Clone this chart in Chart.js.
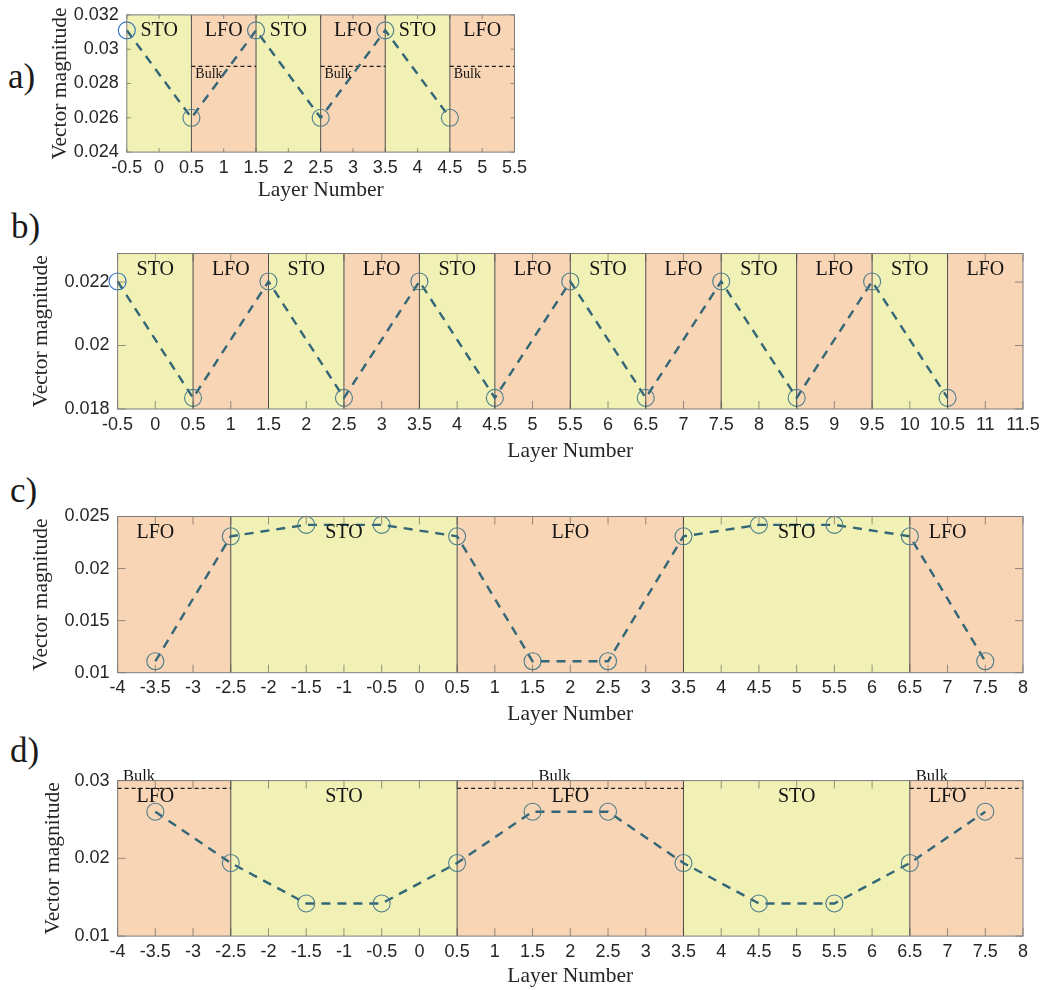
<!DOCTYPE html>
<html>
<head>
<meta charset="utf-8">
<script src="https://cdn.jsdelivr.net/npm/chart.js@4.4.1/dist/chart.umd.min.js"></script>
<style>
  html, body { margin: 0; padding: 0; background: #ffffff; }
  #page { position: relative; width: 1045px; height: 990px; overflow: hidden; background: #ffffff; }
  #page canvas { position: absolute; left: 0; }
  .tag { position: absolute; font-family: "Liberation Serif", "Times New Roman", serif; font-size: 35px; line-height: 1; color: #1a1a1a; }
</style>
</head>
<body>
<div id="page">
  <div class="tag" style="left:8px; top:59px;">a)</div>
  <div class="tag" style="left:11px; top:209px;">b)</div>
  <div class="tag" style="left:10px; top:473px;">c)</div>
  <div class="tag" style="left:10px; top:733px;">d)</div>
  <canvas id="chartA"></canvas>
  <canvas id="chartB"></canvas>
  <canvas id="chartC"></canvas>
  <canvas id="chartD"></canvas>
</div>
<script>
// ---- Panel a: 1+1 superlattice ----
const aLayers = [-0.5, 0.5, 1.5, 2.5, 3.5, 4.5];
const aMagnitude = [0.0311, 0.026, 0.0311, 0.026, 0.0311, 0.026];
const aRegionEdges = [-0.5, 0.5, 1.5, 2.5, 3.5, 4.5, 5.5];
const aRegionNames = ['STO', 'LFO', 'STO', 'LFO', 'STO', 'LFO'];
const aRegionLabelX = [0, 1, 2, 3, 4, 5];
const aBulk = 0.029;
const aBulkLabelX = [0.56, 2.56, 4.56];
const aXTickLabels = ['-0.5', '0', '0.5', '1', '1.5', '2', '2.5', '3', '3.5', '4', '4.5', '5', '5.5'];
const aYTickLabels = ['0.024', '0.026', '0.028', '0.03', '0.032'];
const aYRange = [0.024, 0.032];

// ---- Panel b: longer 1+1 stack ----
const bLayers = [-0.5, 0.5, 1.5, 2.5, 3.5, 4.5, 5.5, 6.5, 7.5, 8.5, 9.5, 10.5];
const bMagnitude = [0.02202, 0.01835, 0.02202, 0.01835, 0.02202, 0.01835, 0.02202, 0.01835, 0.02202, 0.01835, 0.02202, 0.01835];
const bRegionEdges = [-0.5, 0.5, 1.5, 2.5, 3.5, 4.5, 5.5, 6.5, 7.5, 8.5, 9.5, 10.5, 11.5];
const bRegionNames = ['STO', 'LFO', 'STO', 'LFO', 'STO', 'LFO', 'STO', 'LFO', 'STO', 'LFO', 'STO', 'LFO'];
const bRegionLabelX = [0, 1, 2, 3, 4, 5, 6, 7, 8, 9, 10, 11];
const bXTickLabels = ['-0.5', '0', '0.5', '1', '1.5', '2', '2.5', '3', '3.5', '4', '4.5', '5', '5.5', '6', '6.5', '7', '7.5', '8', '8.5', '9', '9.5', '10', '10.5', '11', '11.5'];
const bYTickLabels = ['0.018', '0.02', '0.022'];
const bYRange = [0.018, 0.0229];

// ---- Panel c: 3+3 stack ----
const cLayers = [-3.5, -2.5, -1.5, -0.5, 0.5, 1.5, 2.5, 3.5, 4.5, 5.5, 6.5, 7.5];
const cMagnitude = [0.0111, 0.0231, 0.0242, 0.0242, 0.0231, 0.0111, 0.0111, 0.0231, 0.0242, 0.0242, 0.0231, 0.0111];
const cRegionEdges = [-4, -2.5, 0.5, 3.5, 6.5, 8];
const cRegionNames = ['LFO', 'STO', 'LFO', 'STO', 'LFO'];
const cRegionLabelX = [-3.5, -1, 2, 5, 7];
const cXTickLabels = ['-4', '-3.5', '-3', '-2.5', '-2', '-1.5', '-1', '-0.5', '0', '0.5', '1', '1.5', '2', '2.5', '3', '3.5', '4', '4.5', '5', '5.5', '6', '6.5', '7', '7.5', '8'];
const cYTickLabels = ['0.01', '0.015', '0.02', '0.025'];
const cYRange = [0.01, 0.025];

// ---- Panel d: 3+3 stack with bulk reference ----
const dLayers = [-3.5, -2.5, -1.5, -0.5, 0.5, 1.5, 2.5, 3.5, 4.5, 5.5, 6.5, 7.5];
const dMagnitude = [0.026, 0.0194, 0.0142, 0.0142, 0.0194, 0.026, 0.026, 0.0194, 0.0142, 0.0142, 0.0194, 0.026];
const dRegionEdges = [-4, -2.5, 0.5, 3.5, 6.5, 8];
const dRegionNames = ['LFO', 'STO', 'LFO', 'STO', 'LFO'];
const dRegionLabelX = [-3.5, -1, 2, 5, 7];
const dBulk = 0.029;
const dBulkLabelX = [-3.93, 1.58, 6.58];
const dXTickLabels = cXTickLabels;
const dYTickLabels = ['0.01', '0.02', '0.03'];
const dYRange = [0.01, 0.03];

// ---- shared styling ----
const PAGE_W = 1045;
const FILL = { STO: 'rgb(241,241,181)', LFO: 'rgb(248,213,181)' };
const LINE_COLOR = '#336677';
const MARKER_COLOR = '#4b7d8b';
const FIRST_MARKER_COLOR = '#2a6fbd';
const SANS = '"Liberation Sans", Arial, Helvetica, sans-serif';
const SERIF = '"Liberation Serif", "Times New Roman", serif';

// Draws the layer shading, interfaces, labels, box and inward tick marks.
const layerPlugin = {
  id: 'layerBands',
  beforeDatasetsDraw(chart, args, opts) {
    const { ctx, chartArea: ca, scales: { x } } = chart;
    ctx.save();
    for (let i = 0; i < opts.names.length; i++) {
      const x0 = x.getPixelForValue(opts.edges[i]);
      const x1 = x.getPixelForValue(opts.edges[i + 1]);
      ctx.fillStyle = FILL[opts.names[i]];
      ctx.fillRect(x0, ca.top, x1 - x0, ca.bottom - ca.top);
    }
    ctx.strokeStyle = '#505050';
    ctx.lineWidth = 1;
    for (let i = 1; i < opts.edges.length - 1; i++) {
      const px = x.getPixelForValue(opts.edges[i]);
      ctx.beginPath();
      ctx.moveTo(px, ca.top);
      ctx.lineTo(px, ca.bottom);
      ctx.stroke();
    }
    ctx.restore();
  },
  afterDatasetsDraw(chart, args, opts) {
    const { ctx, chartArea: ca, scales: { x, y } } = chart;
    ctx.save();
    // layer names
    ctx.fillStyle = '#141414';
    ctx.font = '20px ' + SERIF;
    ctx.textAlign = 'center';
    ctx.textBaseline = 'alphabetic';
    opts.names.forEach((n, i) => {
      ctx.fillText(n, x.getPixelForValue(opts.labelX[i]), ca.top + opts.nameOffset);
    });
    // bulk reference captions
    if (opts.bulkLabelX) {
      ctx.font = opts.bulkFont + 'px ' + SERIF;
      ctx.textAlign = 'left';
      const by = y.getPixelForValue(opts.bulk);
      opts.bulkLabelX.forEach(v => {
        ctx.fillText('Bulk', x.getPixelForValue(v), by + opts.bulkLabelDy);
      });
    }
    // inward tick marks on all four sides
    ctx.strokeStyle = 'rgba(70,70,70,0.55)';
    ctx.lineWidth = 1;
    const tl = opts.tickLen;
    x.ticks.forEach(t => {
      const px = x.getPixelForValue(t.value);
      ctx.beginPath();
      ctx.moveTo(px, ca.bottom); ctx.lineTo(px, ca.bottom - tl);
      ctx.moveTo(px, ca.top); ctx.lineTo(px, ca.top + tl);
      ctx.stroke();
    });
    y.ticks.forEach(t => {
      const py = y.getPixelForValue(t.value);
      ctx.beginPath();
      ctx.moveTo(ca.left, py); ctx.lineTo(ca.left + tl, py);
      ctx.moveTo(ca.right, py); ctx.lineTo(ca.right - tl, py);
      ctx.stroke();
    });
    // axes box
    ctx.strokeStyle = '#7d7d7d';
    ctx.lineWidth = 1;
    ctx.strokeRect(ca.left, ca.top, ca.right - ca.left, ca.bottom - ca.top);
    ctx.restore();
  }
};

function makePanel(spec) {
  const canvas = document.getElementById(spec.id);
  canvas.width = PAGE_W;
  canvas.height = spec.canvasH;
  canvas.style.top = spec.canvasTop + 'px';
  canvas.style.width = PAGE_W + 'px';
  canvas.style.height = spec.canvasH + 'px';

  const box = spec.box;
  const titleSize = 21.5;
  const xh = spec.xTitleY + titleSize * 0.6 - box.b;
  const xTickVals = spec.xTickLabels.map(Number);
  const yTickVals = spec.yTickLabels.map(Number);

  const datasets = [{
    data: spec.layers.map((v, i) => ({ x: v, y: spec.magnitude[i] })),
    borderColor: LINE_COLOR,
    borderWidth: 2.4,
    borderDash: [9, 7],
    pointRadius: 8.5,
    pointHoverRadius: 8.5,
    pointBorderWidth: 1.1,
    pointBorderColor: spec.layers.map((v, i) => (i === 0 && spec.blueFirst) ? FIRST_MARKER_COLOR : MARKER_COLOR),
    pointBackgroundColor: 'rgba(0,0,0,0)',
    tension: 0,
    clip: false
  }];
  if (spec.bulk !== undefined) {
    spec.names.forEach((n, i) => {
      if (n !== 'LFO') return;
      datasets.push({
        data: [{ x: spec.edges[i], y: spec.bulk }, { x: spec.edges[i + 1], y: spec.bulk }],
        borderColor: '#1e1e1e',
        borderWidth: 1.2,
        borderDash: [4, 3],
        pointRadius: 0,
        tension: 0,
        clip: false
      });
    });
  }

  return new Chart(canvas, {
    type: 'line',
    data: { datasets },
    plugins: [layerPlugin],
    options: {
      responsive: false,
      animation: false,
      devicePixelRatio: 1,
      events: [],
      layout: {
        padding: {
          left: 0,
          right: PAGE_W - box.r,
          top: box.t - spec.canvasTop,
          bottom: spec.canvasH - (box.b - spec.canvasTop) - xh
        }
      },
      plugins: {
        legend: { display: false },
        tooltip: { enabled: false },
        layerBands: {
          edges: spec.edges,
          names: spec.names,
          labelX: spec.labelX,
          nameOffset: 21,
          bulk: spec.bulk,
          bulkLabelX: spec.bulkLabelX,
          bulkLabelDy: spec.bulkLabelDy,
          bulkFont: spec.bulkFont,
          tickLen: spec.tickLen
        }
      },
      scales: {
        x: {
          type: 'linear',
          position: 'bottom',
          min: xTickVals[0],
          max: xTickVals[xTickVals.length - 1],
          afterBuildTicks: s => { s.ticks = xTickVals.map(v => ({ value: v })); },
          afterFit: s => { s.height = xh; s.paddingLeft = 0; s.paddingRight = 0; },
          grid: { display: false, drawTicks: false },
          border: { display: false },
          ticks: {
            autoSkip: false, maxRotation: 0, minRotation: 0,
            padding: spec.xTickPad,
            color: '#262626',
            font: { family: SANS, size: 18 },
            callback: (v, i) => spec.xTickLabels[i]
          },
          title: {
            display: true, text: 'Layer Number', color: '#262626',
            font: { family: SERIF, size: titleSize },
            padding: { top: 0, bottom: 0 }
          }
        },
        y: {
          type: 'linear',
          position: 'left',
          min: spec.yRange[0],
          max: spec.yRange[1],
          afterBuildTicks: s => { s.ticks = yTickVals.map(v => ({ value: v })); },
          afterFit: s => { s.width = box.l; s.paddingTop = 0; s.paddingBottom = 0; },
          grid: { display: false, drawTicks: false },
          border: { display: false },
          ticks: {
            padding: 8,
            color: '#262626',
            font: { family: SANS, size: 18 },
            callback: (v, i) => spec.yTickLabels[i]
          },
          title: {
            display: true, text: 'Vector magnitude', color: '#262626',
            font: { family: SERIF, size: titleSize },
            padding: { top: spec.yTitleX - titleSize * 0.6, bottom: 0 }
          }
        }
      }
    }
  });
}

makePanel({
  id: 'chartA', canvasTop: 0, canvasH: 210,
  box: { l: 126.8, r: 514.5, t: 14.9, b: 152.1 },
  layers: aLayers, magnitude: aMagnitude, blueFirst: true,
  edges: aRegionEdges, names: aRegionNames, labelX: aRegionLabelX,
  bulk: aBulk, bulkLabelX: aBulkLabelX, bulkLabelDy: 12, bulkFont: 14,
  xTickLabels: aXTickLabels, yTickLabels: aYTickLabels, yRange: aYRange,
  yTitleX: 60, xTitleY: 190, xTickPad: 5, tickLen: 4
});
makePanel({
  id: 'chartB', canvasTop: 230, canvasH: 240,
  box: { l: 117.6, r: 1023, t: 253.5, b: 409 },
  layers: bLayers, magnitude: bMagnitude, blueFirst: true,
  edges: bRegionEdges, names: bRegionNames, labelX: bRegionLabelX,
  xTickLabels: bXTickLabels, yTickLabels: bYTickLabels, yRange: bYRange,
  yTitleX: 41.5, xTitleY: 451, xTickPad: 5, tickLen: 8
});
makePanel({
  id: 'chartC', canvasTop: 495, canvasH: 235,
  box: { l: 117.6, r: 1023, t: 516.5, b: 672.7 },
  layers: cLayers, magnitude: cMagnitude, blueFirst: false,
  edges: cRegionEdges, names: cRegionNames, labelX: cRegionLabelX,
  xTickLabels: cXTickLabels, yTickLabels: cYTickLabels, yRange: cYRange,
  yTitleX: 41.5, xTitleY: 714, xTickPad: 5, tickLen: 8
});
makePanel({
  id: 'chartD', canvasTop: 755, canvasH: 235,
  box: { l: 117.6, r: 1023, t: 780.6, b: 936.1 },
  layers: dLayers, magnitude: dMagnitude, blueFirst: false,
  edges: dRegionEdges, names: dRegionNames, labelX: dRegionLabelX,
  bulk: dBulk, bulkLabelX: dBulkLabelX, bulkLabelDy: -7.5, bulkFont: 16.5,
  xTickLabels: dXTickLabels, yTickLabels: dYTickLabels, yRange: dYRange,
  yTitleX: 53, xTitleY: 976, xTickPad: 5, tickLen: 8
});
</script>
</body>
</html>
